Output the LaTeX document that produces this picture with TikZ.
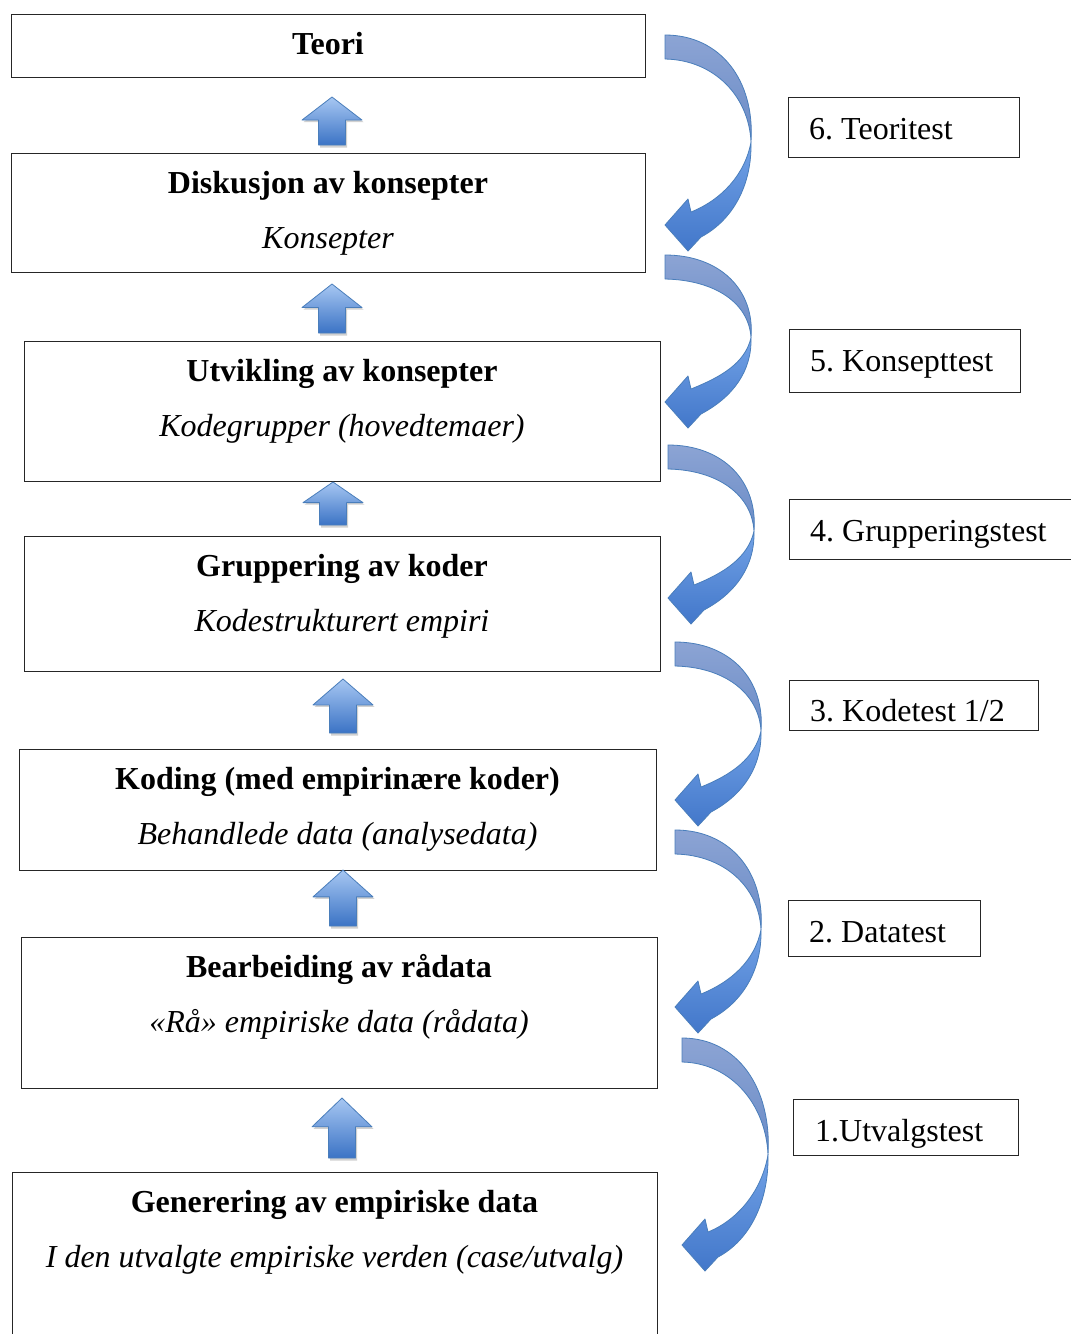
\documentclass[tikz,border=0pt]{standalone}
\usepackage{fontspec}
\setmainfont{Liberation Serif}
\begin{document}
\frenchspacing
\begin{tikzpicture}[x=1pt,y=-1pt,
  box/.style={draw=black!85,line width=1.2pt,fill=white,inner sep=0pt,anchor=north west},
  ttl/.style={inner sep=0pt,anchor=base,font=\fontsize{32}{38}\selectfont\bfseries},
  sub/.style={inner sep=0pt,anchor=base,font=\fontsize{32}{38}\selectfont\itshape},
  lbl/.style={inner sep=0pt,anchor=base west,font=\fontsize{32}{38}\selectfont},
  arrline/.style={draw=arrEdge,line width=0.8pt,line join=round}]
\definecolor{arrEdge}{HTML}{4A7EBB}
\definecolor{backTop}{HTML}{8CA4D4}
\definecolor{backBot}{HTML}{6A8BC6}
\definecolor{frontTop}{HTML}{72A2E6}
\definecolor{frontBot}{HTML}{4277CA}
\definecolor{upTop}{HTML}{A7C7F2}
\definecolor{upBot}{HTML}{3B73C5}
\useasboundingbox (0,0) rectangle (1071,1334);
\clip (0,0) rectangle (1071,1334);
\fill[white] (0,0) rectangle (1071,1334);

% main boxes
\node[box,minimum width=634pt,minimum height=63pt] (teori) at (11,14) {};
\node[box,minimum width=634pt,minimum height=119pt] (disk) at (11,153) {};
\node[box,minimum width=636pt,minimum height=140pt] (utv) at (24,341) {};
\node[box,minimum width=636pt,minimum height=135pt] (grupp) at (24,536) {};
\node[box,minimum width=637pt,minimum height=121pt] (kod) at (19,749) {};
\node[box,minimum width=636pt,minimum height=151pt] (bearb) at (21,937) {};
\node[box,minimum width=645pt,minimum height=180pt] (gen) at (12,1172) {};

% texts
\node[ttl] (teoriT) at (328,54) {Teori};
\node[ttl] (diskT) at (328,193) {Diskusjon av konsepter};
\node[sub] (diskS) at (328,248) {Konsepter};
\node[ttl] (utvT) at (342,381) {Utvikling av konsepter};
\node[sub] (utvS) at (342,436) {Kodegrupper (hovedtemaer)};
\node[ttl] (gruppT) at (342,576) {Gruppering av koder};
\node[sub] (gruppS) at (342,631) {Kodestrukturert empiri};
\node[ttl] (kodT) at (337.5,789) {Koding (med empirinære koder)};
\node[sub] (kodS) at (337.5,844) {Behandlede data (analysedata)};
\node[ttl] (bearbT) at (339,977) {Bearbeiding av rådata};
\node[sub] (bearbS) at (339,1032) {«Rå» empiriske data (rådata)};
\node[ttl] (genT) at (334.5,1212) {Generering av empiriske data};
\node[sub] (genS) at (334.5,1267) {I den utvalgte empiriske verden (case/utvalg)};

% label boxes
\node[box,minimum width=231pt,minimum height=60pt] (l6) at (788,97) {};
\node[box,minimum width=231pt,minimum height=63pt] (l5) at (789,329) {};
\node[box,minimum width=300pt,minimum height=60pt] (l4) at (789,499) {};
\node[box,minimum width=249pt,minimum height=50pt] (l3) at (789,680) {};
\node[box,minimum width=192pt,minimum height=56pt] (l2) at (788,900) {};
\node[box,minimum width=225pt,minimum height=56pt] (l1) at (793,1099) {};
\node[lbl] (l6T) at (809,139) {6. Teoritest};
\node[lbl] (l5T) at (810,371) {5. Konsepttest};
\node[lbl] (l4T) at (810,541) {4. Grupperingstest};
\node[lbl] (l3T) at (810,721) {3. Kodetest 1/2};
\node[lbl] (l2T) at (809,942) {2. Datatest};
\node[lbl] (l1T) at (815,1141) {1.Utvalgstest};

% up arrows: #1 centre x, #2 tip y, #3 bottom y
\newcommand{\uparr}[3]{%
  \pgfmathsetmacro{\hb}{#2+(#3-#2)*0.48}%
  \fill[black,opacity=0.18] (#1+1.5,#2+2) -- (#1+31.5,\hb+2) -- (#1+15,\hb+2) -- (#1+15,#3+2.5) -- (#1-12,#3+2.5) -- (#1-12,\hb+2) -- (#1-28.5,\hb+2) -- cycle;
  \shade[top color=upTop,bottom color=upBot,arrline] (#1,#2) -- (#1+30,\hb) -- (#1+13.5,\hb) -- (#1+13.5,#3) -- (#1-13.5,#3) -- (#1-13.5,\hb) -- (#1-30,\hb) -- cycle;}
\uparr{332}{97}{145}
\uparr{332}{284}{333}
\uparr{333}{482}{525}
\uparr{343}{679}{733}
\uparr{343}{870}{926}
\uparr{342}{1098}{1158}

% curved arrows: #1 x0, #2 y0, #3 height to tip
\newcommand{\curvarr}[3]{%
  \pgfmathsetmacro{\ty}{#3/190*107}%
  \pgfmathsetmacro{\qa}{#3/190*150}%
  \pgfmathsetmacro{\qb}{#3/190*140}%
  \pgfmathsetmacro{\qc}{#3/190*45}%
  \pgfmathsetmacro{\qd}{#3/190*62}%
  \begin{scope}[shift={(#1,#2)}]
    \shade[top color=backTop,bottom color=backBot,arrline]
      (0,0) .. controls (55,0) and (90,\qc) .. (86,\ty)
      .. controls (84,\qd) and (50,25) .. (0,24) -- cycle;
    \shade[top color=frontTop,bottom color=frontBot,arrline]
      (86,\ty) .. controls (87,\qa) and (68,#3-5) .. (36,#3+12)
      -- (23,#3+26) -- (0,#3) -- (23,#3-26) -- (26,#3-13)
      .. controls (56,#3-25) and (80,\qb) .. (86,\ty) -- cycle;
  \end{scope}}
\curvarr{665}{35}{190}
\curvarr{665}{255}{147}
\curvarr{668}{445}{153}
\curvarr{675}{642}{158}
\curvarr{675}{830}{177}
\curvarr{682}{1038}{207}
\end{tikzpicture}
\end{document}
